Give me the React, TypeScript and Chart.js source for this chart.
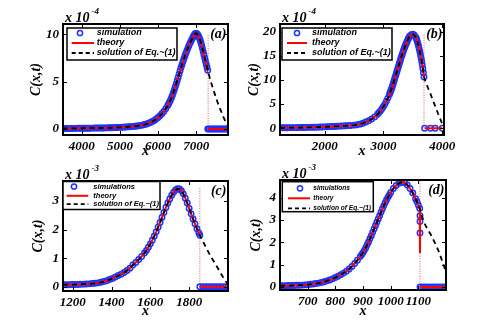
import React, { useEffect, useRef } from "react";
import { Chart, registerables } from "chart.js";

Chart.register(...registerables);

const SERIF = '"Liberation Serif", "Times New Roman", serif';
const SANS = '"Liberation Sans", Arial, sans-serif';
const BLUE = "rgb(30,50,255)";

// Each curve: [x, C(x,t)] pairs (C in units of the axis multiplier)

// ---------- Panel (a) : units of 1e-4 ----------
const aCurve = [
  [3500,0.05],[3550,0.05],[3600,0.05],[3650,0.055],[3700,0.06],[3750,0.06],[3800,0.06],[3850,0.065],[3900,0.07],[3950,0.07],
  [4000,0.07],[4050,0.075],[4100,0.08],[4150,0.08],[4200,0.08],[4250,0.085],[4300,0.09],[4350,0.095],[4400,0.10],[4450,0.10],
  [4500,0.10],[4550,0.105],[4600,0.11],[4650,0.115],[4700,0.12],[4750,0.125],[4800,0.13],[4850,0.14],[4900,0.15],[4950,0.16],
  [5000,0.17],[5050,0.18],[5100,0.19],[5150,0.205],[5200,0.22],[5250,0.235],[5300,0.25],[5350,0.27],[5400,0.29],[5450,0.315],
  [5500,0.34],[5550,0.38],[5600,0.42],[5650,0.47],[5700,0.53],[5750,0.60],[5800,0.68],[5850,0.78],[5900,0.90],[5950,1.05],
  [6000,1.22],[6050,1.40],[6100,1.60],[6150,1.85],[6200,2.13],[6250,2.45],[6275,2.64],
  [6300,2.85],[6325,3.07],[6350,3.30],[6375,3.57],[6400,3.85],[6425,4.15],[6450,4.45],[6475,4.77],[6500,5.10],[6525,5.45],
  [6550,5.80],[6575,6.15],[6600,6.50],[6625,6.80],[6650,7.10],[6675,7.40],[6700,7.70],[6725,7.98],[6750,8.25],[6775,8.50],
  [6800,8.75],[6825,8.98],[6850,9.20],[6875,9.40],[6900,9.60],
  [6920,9.76],[6940,9.90],[6960,10.02],[6980,10.10],[7000,10.10],[7020,10.05],[7040,9.95],[7060,9.80],[7080,9.62],[7100,9.40],
  [7120,9.14],[7140,8.85],[7160,8.53],[7180,8.20],[7200,7.86],[7220,7.50],[7240,7.17],[7260,6.85],[7280,6.52],[7300,6.20],
];
const aTail = [[7350,5.45],[7400,4.75],[7450,4.10],[7500,3.50],[7550,2.90],[7600,2.35],[7650,1.85],[7700,1.35],[7750,0.90],[7800,0.50],[7850,0.20]];
const aZeroX = [7300,7340,7380,7420,7460,7500,7540,7580,7620,7660,7700,7740,7780,7820];
const aFront = 7310;
const aFrontTop = 10.0;
const aXTicks = [4000, 5000, 6000, 7000];
const aYTicks = [0, 5, 10];
const aXRange = [3510, 7830];
const aYRange = [-0.64, 11.1];

// ---------- Panel (b) : units of 1e-4 ----------
const bCurve = [
  [1240,0.10],[1280,0.10],[1320,0.11],[1360,0.11],[1400,0.12],[1440,0.12],[1480,0.13],[1520,0.13],[1560,0.14],[1600,0.15],
  [1640,0.16],[1680,0.17],[1720,0.18],[1760,0.19],[1800,0.20],[1840,0.21],[1880,0.23],[1920,0.25],[1960,0.27],[2000,0.29],
  [2040,0.31],[2080,0.33],[2120,0.35],[2160,0.37],[2200,0.40],[2240,0.43],[2280,0.46],[2320,0.49],[2360,0.52],[2400,0.55],[2440,0.58],
  [2500,0.64],[2550,0.72],[2600,0.85],[2650,1.02],[2700,1.28],[2750,1.55],[2800,1.90],[2850,2.35],[2900,2.90],
  [2925,3.25],[2950,3.60],[2975,4.05],[3000,4.50],[3025,5.00],[3050,5.60],[3075,6.25],
  [3100,6.95],[3110,7.25],[3120,7.60],[3130,7.92],[3140,8.25],[3150,8.60],[3160,9.00],[3170,9.40],[3180,9.80],[3190,10.2],
  [3200,10.6],[3210,11.0],[3220,11.4],[3230,11.8],[3240,12.2],[3250,12.6],[3260,13.0],[3270,13.4],[3280,13.8],[3290,14.2],
  [3300,14.6],[3310,14.95],[3320,15.3],[3330,15.68],[3340,16.05],[3350,16.4],[3360,16.72],[3370,17.05],[3380,17.35],[3390,17.62],
  [3400,17.9],[3410,18.2],[3420,18.48],[3430,18.7],[3440,18.92],[3450,19.1],
  [3475,19.4],[3500,19.5],[3525,19.3],[3550,18.8],
  [3560,18.6],[3570,18.2],[3580,17.8],[3590,17.35],[3600,16.9],[3610,16.35],[3620,15.8],[3630,15.2],[3640,14.55],[3650,13.9],
  [3660,13.15],[3670,12.4],[3680,11.5],[3690,10.6],
];
const bTail = [[3720,9.5],[3750,8.6],[3780,7.7],[3810,6.8],[3840,5.8],[3870,4.9],[3900,4.0],[3930,3.0],[3960,2.1],[3990,1.2],[4020,0.4]];
const bZeroX = [3700,3800,3880,4000];
const bFront = 3690;
const bFrontTop = 19.6;
const bXTicks = [2000, 3000, 4000];
const bYTicks = [0, 5, 10, 15, 20];
const bXRange = [1240, 4030];
const bYRange = [-1.4, 21.6];

// ---------- Panel (c) : units of 1e-3 ----------
const cCurve = [
  [1150,0.07],[1165,0.07],[1180,0.07],[1195,0.075],[1210,0.075],[1225,0.08],[1240,0.085],[1255,0.09],[1270,0.095],[1285,0.10],
  [1300,0.11],[1315,0.12],[1330,0.135],[1345,0.155],[1360,0.18],[1375,0.21],[1390,0.25],[1405,0.29],[1420,0.34],[1435,0.39],
  [1450,0.44],[1465,0.50],[1480,0.57],[1495,0.65],[1510,0.76],[1525,0.85],[1540,0.95],[1555,1.06],
  [1570,1.18],[1580,1.27],[1590,1.38],[1600,1.50],[1610,1.63],[1620,1.77],[1630,1.92],[1640,2.08],[1650,2.25],[1660,2.42],
  [1670,2.60],[1680,2.77],[1690,2.93],[1700,3.07],[1710,3.20],[1720,3.31],[1730,3.39],[1740,3.43],[1750,3.42],[1760,3.36],
  [1770,3.25],[1780,3.10],[1790,2.93],[1800,2.74],[1810,2.55],[1820,2.37],[1830,2.20],[1840,2.03],[1850,1.88],[1855,1.80],
];
const cTail = [[1870,1.60],[1885,1.40],[1900,1.20],[1915,1.02],[1930,0.85],[1945,0.68],[1960,0.50],[1975,0.33],[1990,0.17],[2000,0.08]];
const cZeroX = [1855,1870,1885,1900,1915,1930,1945,1960,1975,1990,2000];
const cFront = 1855;
const cFrontTop = 3.45;
const cXTicks = [1200, 1400, 1600, 1800];
const cYTicks = [0, 1, 2, 3];
const cXRange = [1150, 2000];
const cYRange = [-0.15, 3.7];

// ---------- Panel (d) : units of 1e-3 ----------
const dCurve = [
  [600,0.05],[610,0.05],[620,0.055],[630,0.06],[640,0.06],[650,0.065],[660,0.07],[670,0.075],[680,0.08],[690,0.09],
  [700,0.10],[710,0.115],[720,0.13],[730,0.15],[740,0.17],[750,0.20],[760,0.23],[770,0.27],[780,0.31],[790,0.36],
  [800,0.42],[810,0.48],[820,0.55],[830,0.62],[840,0.70],[850,0.80],[860,0.92],[870,1.05],[880,1.20],
  [890,1.36],[895,1.44],[900,1.53],[905,1.64],[910,1.76],[915,1.89],[920,2.02],[925,2.16],[930,2.30],[935,2.45],
  [940,2.60],[945,2.75],[950,2.90],[955,3.05],[960,3.20],[965,3.35],[970,3.50],[975,3.64],[980,3.78],[985,3.90],
  [990,4.02],[995,4.13],[1000,4.24],[1010,4.42],[1020,4.55],[1030,4.65],[1040,4.70],[1050,4.68],[1060,4.58],[1070,4.42],
  [1080,4.22],[1090,3.96],[1095,3.82],[1100,3.68],[1105,3.52],
];
const dDrop = [[1106,3.2],[1106,2.94],[1106,2.42]];
const dTheoryDrop = [[1106,1.52]];
const dTail = [[1115,3.10],[1125,2.78],[1135,2.55],[1145,2.35],[1155,2.10],[1165,1.85],[1175,1.55],[1185,1.20],[1195,0.85],[1200,0.68]];
const dZeroX = [1106,1116,1126,1136,1146,1156,1166,1176,1186,1196];
const dFront = 1106;
const dFrontTop = 4.75;
const dXTicks = [700, 800, 900, 1000, 1100];
const dYTicks = [0, 1, 2, 3, 4];
const dXRange = [600, 1200];
const dYRange = [-0.14, 4.8];

const labelsAB = ["simulation", "theory", "solution of Eq.~(1)"];
const labelsCD = ["simulations", "theory", "solution of Eq.~(1)"];

type Pt = { x: number; y: number | null };
const pts = (arr: number[][]): Pt[] => arr.map(([x, y]) => ({ x, y }));
const onZero = (xs: number[]): Pt[] => xs.map((x) => ({ x, y: 0 }));

type LegendGeo = { dx: number; dy: number; w: number; h: number; rows: number[]; s0: number; s1: number; marker: number; text: number; font: number };

type Spec = {
  key: string;
  left: number; top: number; w: number; h: number;
  pad: { left: number; right: number; top: number; bottom: number };
  yAxisW: number; xAxisH: number; yTitlePad: number; xTitlePad: number;
  xRange: number[]; yRange: number[]; xTicks: number[]; yTicks: number[];
  exponent: string; tag: string; labels: string[];
  sim: Pt[]; theory: Pt[]; solution: Pt[]; front: number; frontTop: number;
  legend: LegendGeo;
};

const specs: Spec[] = [
  {
    key: "a", left: 0, top: 0, w: 245, h: 163,
    pad: { left: 0, right: 17, top: 24, bottom: 0 }, yAxisW: 63, xAxisH: 28, yTitlePad: 29.7, xTitlePad: 4.5,
    xRange: aXRange, yRange: aYRange, xTicks: aXTicks, yTicks: aYTicks,
    exponent: "-4", tag: "(a)", labels: labelsAB,
    sim: [...pts(aCurve), ...onZero(aZeroX)],
    theory: [...pts(aCurve), { x: aFront, y: null }, ...onZero(aZeroX)],
    solution: [...pts(aCurve), ...pts(aTail)],
    front: aFront, frontTop: aFrontTop,
    legend: { dx: 4, dy: 4, w: 110, h: 32, rows: [5, 15, 25], s0: 4.7, s1: 27, marker: 13, text: 29.7, font: 9 },
  },
  {
    key: "b", left: 245, top: 0, w: 246, h: 163,
    pad: { left: 0, right: 47, top: 24, bottom: 0 }, yAxisW: 35, xAxisH: 28, yTitlePad: 2, xTitlePad: 4.5,
    xRange: bXRange, yRange: bYRange, xTicks: bXTicks, yTicks: bYTicks,
    exponent: "-4", tag: "(b)", labels: labelsAB,
    sim: [...pts(bCurve), ...onZero(bZeroX)],
    theory: [...pts(bCurve), { x: bFront, y: null }, ...onZero(bZeroX)],
    solution: [...pts(bCurve), ...pts(bTail)],
    front: bFront, frontTop: bFrontTop,
    legend: { dx: 2, dy: 4, w: 110, h: 32, rows: [5, 15, 25], s0: 5, s1: 25, marker: 15, text: 30, font: 9 },
  },
  {
    key: "c", left: 0, top: 163, w: 245, h: 164,
    pad: { left: 0, right: 17, top: 18, bottom: 0 }, yAxisW: 63, xAxisH: 36, yTitlePad: 31, xTitlePad: 8.5,
    xRange: cXRange, yRange: cYRange, xTicks: cXTicks, yTicks: cYTicks,
    exponent: "-3", tag: "(c)", labels: labelsCD,
    sim: [...pts(cCurve), ...onZero(cZeroX)],
    theory: [...pts(cCurve), { x: cFront, y: null }, ...onZero(cZeroX)],
    solution: [...pts(cCurve), ...pts(cTail)],
    front: cFront, frontTop: cFrontTop,
    legend: { dx: 0, dy: 0.5, w: 97, h: 28, rows: [5, 14.3, 22.6], s0: 3.7, s1: 25.3, marker: 11, text: 30.3, font: 7.5 },
  },
  {
    key: "d", left: 245, top: 163, w: 246, h: 164,
    pad: { left: 0, right: 45, top: 17, bottom: 0 }, yAxisW: 35, xAxisH: 37, yTitlePad: 4.7, xTitlePad: 8.5,
    xRange: dXRange, yRange: dYRange, xTicks: dXTicks, yTicks: dYTicks,
    exponent: "-3", tag: "(d)", labels: labelsCD,
    sim: [...pts(dCurve), ...pts(dDrop), ...onZero(dZeroX)],
    theory: [...pts(dCurve), ...pts(dTheoryDrop), { x: dFront, y: null }, ...onZero(dZeroX)],
    solution: [...pts(dCurve), ...pts(dTail)],
    front: dFront, frontTop: dFrontTop,
    legend: { dx: 2.3, dy: 1.7, w: 91, h: 30, rows: [6.6, 16.6, 26.6], s0: 5.7, s1: 27.7, marker: 17.7, text: 31, font: 6.6 },
  },
];

function makeDecor(spec: Spec) {
  return {
    id: "decor_" + spec.key,
    afterDatasetsDraw(chart: any) {
      const { ctx, chartArea: ca } = chart;
      const xs = chart.scales.x;
      const ys = chart.scales.y;
      ctx.save();
      ctx.strokeStyle = "#000";
      ctx.lineWidth = 1;
      ctx.setLineDash([]);
      ctx.beginPath();
      for (const t of xs.ticks) {
        const p = Math.round(xs.getPixelForValue(t.value)) + 0.5;
        ctx.moveTo(p, ca.bottom); ctx.lineTo(p, ca.bottom - 4);
        ctx.moveTo(p, ca.top); ctx.lineTo(p, ca.top + 4);
      }
      for (const t of ys.ticks) {
        const p = Math.round(ys.getPixelForValue(t.value)) + 0.5;
        ctx.moveTo(ca.left, p); ctx.lineTo(ca.left + 4, p);
        ctx.moveTo(ca.right, p); ctx.lineTo(ca.right - 4, p);
      }
      ctx.stroke();
      ctx.lineWidth = 2;
      ctx.strokeRect(ca.left, ca.top, ca.right - ca.left, ca.bottom - ca.top);

      // exponent label
      ctx.fillStyle = "#000";
      ctx.textBaseline = "middle";
      ctx.textAlign = "left";
      ctx.font = `italic bold 14px ${SERIF}`;
      const base = "x 10";
      const ex = ca.left + 2;
      const ey = ca.top - 5.5;
      ctx.fillText(base, ex, ey);
      const bw = ctx.measureText(base).width;
      ctx.font = `italic bold 9px ${SERIF}`;
      ctx.fillText(spec.exponent, ex + bw + 2, ey - 6.5);

      // panel tag
      ctx.font = `italic bold 14px ${SERIF}`;
      ctx.textAlign = "right";
      ctx.fillText(spec.tag, ca.right - 1.5, ca.top + 10);

      // legend
      const L = spec.legend;
      const bx = ca.left + L.dx;
      const by = ca.top + L.dy;
      ctx.fillStyle = "#fff";
      ctx.fillRect(bx, by, L.w, L.h);
      ctx.lineWidth = 1.5;
      ctx.strokeStyle = "#000";
      ctx.strokeRect(bx, by, L.w, L.h);
      const ds = chart.data.datasets;
      ctx.beginPath();
      ctx.strokeStyle = BLUE;
      ctx.lineWidth = 1.5;
      ctx.arc(bx + L.marker, by + L.rows[0], 2.6, 0, Math.PI * 2);
      ctx.stroke();
      ctx.beginPath();
      ctx.strokeStyle = "#ff0000";
      ctx.lineWidth = 2;
      ctx.moveTo(bx + L.s0, by + L.rows[1]);
      ctx.lineTo(bx + L.s1, by + L.rows[1]);
      ctx.stroke();
      ctx.beginPath();
      ctx.strokeStyle = "#000";
      ctx.lineWidth = 1.8;
      ctx.setLineDash([4, 3]);
      ctx.moveTo(bx + L.s0, by + L.rows[2]);
      ctx.lineTo(bx + L.s1, by + L.rows[2]);
      ctx.stroke();
      ctx.setLineDash([]);
      ctx.fillStyle = "#000";
      ctx.textAlign = "left";
      ctx.textBaseline = "middle";
      ctx.font = `italic bold ${L.font}px ${SANS}`;
      ctx.fillText(ds[2].label, bx + L.text, by + L.rows[0]);
      ctx.fillText(ds[1].label, bx + L.text, by + L.rows[1]);
      ctx.fillText(ds[0].label, bx + L.text, by + L.rows[2]);
      ctx.restore();
    },
  };
}

function Panel({ spec }: { spec: Spec }) {
  const ref = useRef<HTMLCanvasElement | null>(null);
  useEffect(() => {
    const canvas = ref.current;
    if (!canvas) return;
    const tickFont = { family: SERIF, size: 13, style: "italic" as const, weight: "bold" as const };
    const titleFont = { family: SERIF, size: 14, style: "italic" as const, weight: "bold" as const, lineHeight: 1 };
    const chart = new Chart(canvas, {
      type: "scatter",
      data: {
        datasets: [
          {
            label: spec.labels[2], data: spec.solution as any, showLine: true,
            borderColor: "#000", borderWidth: 1.8, borderDash: [5, 4], pointRadius: 0, order: 0,
          },
          {
            label: spec.labels[1], data: spec.theory as any, showLine: true, spanGaps: false,
            borderColor: "#ff0000", borderWidth: 2, pointRadius: 0, order: 1,
          },
          {
            label: spec.labels[0], data: spec.sim as any, showLine: false,
            pointRadius: 2.7, pointBorderWidth: 1.5, pointBorderColor: BLUE,
            pointBackgroundColor: "rgba(0,0,0,0)", borderColor: BLUE, backgroundColor: "rgba(0,0,0,0)", order: 2,
          },
          {
            label: "front", data: [{ x: spec.front, y: 0 }, { x: spec.front, y: spec.frontTop }], showLine: true,
            borderColor: "rgba(225,70,70,0.9)", borderWidth: 1, borderDash: [1, 1.5], pointRadius: 0, order: 3,
          },
        ],
      },
      options: {
        responsive: false,
        animation: false,
        events: [],
        devicePixelRatio: 1,
        layout: { padding: spec.pad },
        elements: { line: { tension: 0 } },
        plugins: { legend: { display: false }, tooltip: { enabled: false }, title: { display: false } },
        scales: {
          x: {
            type: "linear", position: "bottom", min: spec.xRange[0], max: spec.xRange[1],
            grid: { display: false, drawTicks: false, tickLength: 0 }, border: { display: false },
            ticks: { color: "#000", font: tickFont, padding: 3.5, maxRotation: 0, autoSkip: false, callback: (v: any) => String(v) },
            afterBuildTicks: (s: any) => { s.ticks = spec.xTicks.map((v) => ({ value: v })); },
            afterFit: (s: any) => { s.height = spec.xAxisH; },
            title: { display: true, text: "x", color: "#000", font: titleFont, padding: { top: 0, bottom: spec.xTitlePad } },
          },
          y: {
            type: "linear", position: "left", min: spec.yRange[0], max: spec.yRange[1],
            grid: { display: false, drawTicks: false, tickLength: 0 }, border: { display: false },
            ticks: { color: "#000", font: tickFont, padding: 4, autoSkip: false, callback: (v: any) => String(v) },
            afterBuildTicks: (s: any) => { s.ticks = spec.yTicks.map((v) => ({ value: v })); },
            afterFit: (s: any) => { s.width = spec.yAxisW; },
            title: { display: true, text: "C(x,t)", color: "#000", font: titleFont, padding: { top: spec.yTitlePad, bottom: 0 } },
          },
        },
      } as any,
      plugins: [makeDecor(spec)],
    });
    return () => chart.destroy();
  }, [spec]);
  return (
    <canvas
      ref={ref}
      width={spec.w}
      height={spec.h}
      style={{ position: "absolute", left: spec.left, top: spec.top, width: spec.w, height: spec.h }}
    />
  );
}

export default function App() {
  return (
    <div style={{ position: "absolute", left: 0, top: 0, width: 491, height: 327, background: "#fff", overflow: "hidden" }}>
      {specs.map((s) => (
        <Panel key={s.key} spec={s} />
      ))}
    </div>
  );
}
